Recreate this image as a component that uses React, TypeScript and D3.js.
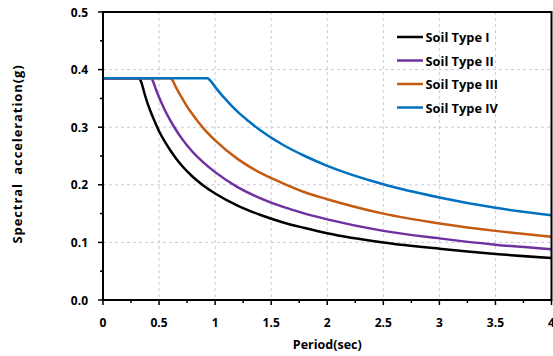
import React from "react";
import * as d3 from "d3";

const seriesNames = ["Soil Type I", "Soil Type II", "Soil Type III", "Soil Type IV"];
const seriesColors = ["#000000", "#7030a0", "#c55a11", "#0070c0"];

const periodI = [0, 0.32, 0.34, 0.37, 0.4, 0.42, 0.45, 0.5, 0.55, 0.6, 0.65, 0.7, 0.8, 0.9, 1.0, 1.2, 1.4, 1.6, 1.8, 2.0, 2.5, 3.0, 3.5, 4.0];
const valueI = [0.385, 0.385, 0.379, 0.3585, 0.34, 0.3295, 0.315, 0.293, 0.2753, 0.26, 0.2463, 0.234, 0.214, 0.198, 0.185, 0.164, 0.148, 0.135, 0.125, 0.116, 0.1, 0.089, 0.08, 0.073];

const periodII = [0, 0.43, 0.45, 0.47, 0.5, 0.55, 0.6, 0.65, 0.7, 0.8, 0.9, 1.0, 1.2, 1.4, 1.6, 1.8, 2.0, 2.5, 3.0, 3.5, 4.0];
const valueII = [0.385, 0.385, 0.3777, 0.3668, 0.352, 0.3304, 0.312, 0.2956, 0.281, 0.257, 0.238, 0.222, 0.196, 0.177, 0.162, 0.15, 0.14, 0.12, 0.107, 0.096, 0.088];

const periodIII = [0, 0.6, 0.62, 0.65, 0.7, 0.75, 0.8, 0.85, 0.9, 1.0, 1.2, 1.4, 1.6, 1.8, 2.0, 2.5, 3.0, 3.5, 4.0];
const valueIII = [0.385, 0.385, 0.3814, 0.3695, 0.352, 0.3358, 0.322, 0.3089, 0.297, 0.277, 0.245, 0.221, 0.203, 0.187, 0.175, 0.15, 0.133, 0.12, 0.11];

const periodIV = [0, 0.93, 0.95, 1.0, 1.05, 1.1, 1.15, 1.2, 1.3, 1.4, 1.6, 1.8, 2.0, 2.5, 3.0, 3.5, 4.0];
const valueIV = [0.385, 0.385, 0.3825, 0.37, 0.3578, 0.347, 0.3367, 0.327, 0.3103, 0.295, 0.27, 0.25, 0.233, 0.201, 0.178, 0.16, 0.147];

const xTicks = [0, 0.5, 1, 1.5, 2, 2.5, 3, 3.5, 4];
const xTickLabels = ["0", "0.5", "1", "1.5", "2", "2.5", "3", "3.5", "4"];
const xMinor = [0.25, 0.75, 1.25, 1.75, 2.25, 2.75, 3.25, 3.75];
const yTicks = [0, 0.1, 0.2, 0.3, 0.4, 0.5];
const yTickLabels = ["0.0", "0.1", "0.2", "0.3", "0.4", "0.5"];
const yMinor = [0.05, 0.15, 0.25, 0.35, 0.45];

const W = 553, H = 356;
const L = 103, R = 551.5, T = 12, B = 300;
const font = "'Open Sans', 'Noto Sans', sans-serif";
const narrow = "'Liberation Sans Narrow', 'Open Sans', sans-serif";

export default function App() {
  const x = d3.scaleLinear().domain([0, 4]).range([L, R]);
  const y = d3.scaleLinear().domain([0, 0.5]).range([B, T]);
  const periods = [periodI, periodII, periodIII, periodIV];
  const values = [valueI, valueII, valueIII, valueIV];
  const line = d3
    .line<[number, number]>()
    .x((d) => x(d[0]))
    .y((d) => y(d[1]))
    .curve(d3.curveMonotoneX);

  return (
    <svg width={W} height={H} style={{ position: "absolute", left: 0, top: 0, background: "#fff" }}>
      {/* grid */}
      {xTicks.slice(1, -1).map((t) => (
        <line key={"gx" + t} x1={x(t)} x2={x(t)} y1={T} y2={B} stroke="#cdc6e6" strokeWidth={1} strokeDasharray="3,3" />
      ))}
      {yTicks.slice(1, -1).map((t) => (
        <line key={"gy" + t} x1={L} x2={R} y1={y(t)} y2={y(t)} stroke="#cdc6e6" strokeWidth={1} strokeDasharray="3,3" />
      ))}
      {/* curves */}
      {periods.map((p, i) => (
        <path
          key={"s" + i}
          d={line(p.map((t, j) => [t, values[i][j]] as [number, number])) || ""}
          fill="none"
          stroke={seriesColors[i]}
          strokeWidth={2.5}
          strokeLinejoin="round"
        />
      ))}
      {/* frame */}
      <rect x={L} y={T} width={R - L} height={B - T} fill="none" stroke="#000" strokeWidth={2} />
      {/* ticks */}
      {xTicks.map((t) => (
        <line key={"tx" + t} x1={x(t)} x2={x(t)} y1={B} y2={B + 5} stroke="#000" strokeWidth={1.5} />
      ))}
      {xMinor.map((t) => (
        <line key={"mx" + t} x1={x(t)} x2={x(t)} y1={B} y2={B + 3} stroke="#000" strokeWidth={1.5} />
      ))}
      {yTicks.map((t) => (
        <line key={"ty" + t} x1={L - 5} x2={L} y1={y(t)} y2={y(t)} stroke="#000" strokeWidth={1.5} />
      ))}
      {yMinor.map((t) => (
        <line key={"my" + t} x1={L - 3} x2={L} y1={y(t)} y2={y(t)} stroke="#000" strokeWidth={1.5} />
      ))}
      {/* tick labels */}
      {xTicks.map((t, i) => (
        <text key={"lx" + t} x={x(t)} y={B + 27} textAnchor="middle" fontFamily={font} fontSize={12} fontWeight="bold" fill="#000">
          {xTickLabels[i]}
        </text>
      ))}
      {yTicks.map((t, i) => (
        <text key={"ly" + t} x={88} y={y(t) + 4.5} textAnchor="end" fontFamily={font} fontSize={12} fontWeight="bold" fill="#000">
          {yTickLabels[i]}
        </text>
      ))}
      {/* axis titles */}
      <text x={(L + R) / 2} y={349} textAnchor="middle" fontFamily={font} fontSize={12.5} fontWeight="bold" fill="#000">
        Period(sec)
      </text>
      <text
        transform={`translate(22,154) rotate(-90)`}
        textAnchor="middle"
        fontFamily={font}
        fontSize={13}
        fontWeight="bold"
        letterSpacing={0.9}
        fill="#000"
        style={{ whiteSpace: "pre" }}
      >
        {"Spectral  acceleration(g)"}
      </text>
      {/* legend */}
      {seriesNames.map((n, i) => (
        <g key={"lg" + i}>
          <line x1={397} x2={423} y1={37 + i * 23.5} y2={37 + i * 23.5} stroke={seriesColors[i]} strokeWidth={2.5} />
          <text x={425.5} y={37 + i * 23.5 + 5} fontFamily={narrow} fontSize={12.8} fontWeight="bold" fill="#000">
            {n}
          </text>
        </g>
      ))}
    </svg>
  );
}
